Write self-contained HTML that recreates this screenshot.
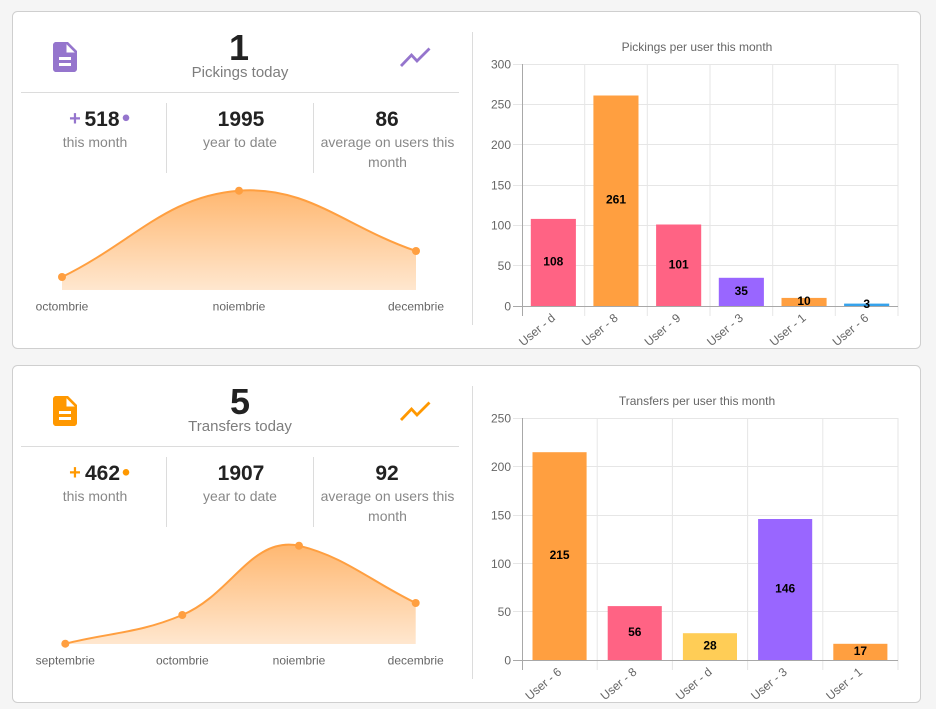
<!DOCTYPE html>
<html><head><meta charset="utf-8"><style>
html,body{margin:0;padding:0;background:#f5f5f5;width:936px;height:709px;overflow:hidden;}
svg{display:block;font-family:"Liberation Sans",Arial,sans-serif;}
</style></head><body>
<svg width="936" height="709" viewBox="0 0 936 709" xmlns="http://www.w3.org/2000/svg">
<defs>
<linearGradient id="g1" gradientUnits="userSpaceOnUse" x1="0" y1="190" x2="0" y2="290">
<stop offset="0" stop-color="#ff9f40" stop-opacity="0.75"/>
<stop offset="1" stop-color="#ff9f40" stop-opacity="0.25"/>
</linearGradient>
</defs>
<rect x="0" y="0" width="936" height="709" fill="#f5f5f5"/>

<!-- ============ CARD 1 ============ -->
<g>
<rect x="12.5" y="11.5" width="908" height="337" rx="5" fill="#fff" stroke="#cfcfcf"/>
<!-- icon -->
<path transform="translate(47,39) scale(1.5)" fill="#9575cd" d="M14 2H6c-1.1 0-1.99.9-1.99 2L4 20c0 1.1.89 2 1.99 2H18c1.1 0 2-.9 2-2V8l-6-6zm2 16H8v-2h8v2zm0-4H8v-2h8v2zm-3-5V3.5L18.5 9H13z"/>
<polyline points="401,66 411.5,55 417,61 429.5,48.5" fill="none" stroke="#9575cd" stroke-width="2.8"/>
<text x="239" y="60" font-size="36" font-weight="bold" fill="#222" text-anchor="middle">1</text>
<text x="240" y="77" font-size="15" fill="#7d7d7d" text-anchor="middle">Pickings today</text>
<line x1="21" y1="92.5" x2="459" y2="92.5" stroke="#dcdcdc"/>
<line x1="166.5" y1="103" x2="166.5" y2="173" stroke="#dcdcdc"/>
<line x1="313.5" y1="103" x2="313.5" y2="173" stroke="#dcdcdc"/>
<text x="75" y="125" font-size="20" font-weight="bold" fill="#9575cd" text-anchor="middle">+</text>
<text x="102" y="126" font-size="21" font-weight="bold" fill="#222" text-anchor="middle">518</text>
<circle cx="126" cy="117.8" r="3.3" fill="#9575cd"/>
<text x="241" y="126" font-size="21" font-weight="bold" fill="#222" text-anchor="middle">1995</text>
<text x="387" y="126" font-size="21" font-weight="bold" fill="#222" text-anchor="middle">86</text>
<text x="95" y="147" font-size="14" fill="#888" text-anchor="middle">this month</text>
<text x="240" y="147" font-size="14" fill="#888" text-anchor="middle">year to date</text>
<text x="387.5" y="147" font-size="14" fill="#888" text-anchor="middle">average on users this</text>
<text x="387.5" y="167" font-size="14" fill="#888" text-anchor="middle">month</text>
<!-- area chart -->
<path d="M62,277 C132.8,242.5 166.4,196 239,190.7 C308,185.6 345.2,226.9 416,251 L416,290 L62,290 Z" fill="url(#g1)"/>
<path d="M62,277 C132.8,242.5 166.4,196 239,190.7 C308,185.6 345.2,226.9 416,251" fill="none" stroke="#ff9f40" stroke-width="2"/>
<circle cx="62" cy="277" r="4" fill="#ff9f40"/>
<circle cx="239" cy="190.7" r="4" fill="#ff9f40"/>
<circle cx="416" cy="251" r="4" fill="#ff9f40"/>
<g font-size="12" fill="#666" text-anchor="middle">
<text x="62" y="310.5">octombrie</text>
<text x="239" y="310.5">noiembrie</text>
<text x="416" y="310.5">decembrie</text>
</g>
<line x1="472.5" y1="32" x2="472.5" y2="325" stroke="#dcdcdc"/>
<!-- bar chart 1 -->
<text x="697" y="51" font-size="12" fill="#666" text-anchor="middle">Pickings per user this month</text>
<g stroke="#e6e6e6" stroke-width="1">
<line x1="513" y1="64.5" x2="898" y2="64.5"/>
<line x1="513" y1="104.5" x2="898" y2="104.5"/>
<line x1="513" y1="144.5" x2="898" y2="144.5"/>
<line x1="513" y1="185.5" x2="898" y2="185.5"/>
<line x1="513" y1="225.5" x2="898" y2="225.5"/>
<line x1="513" y1="265.5" x2="898" y2="265.5"/>
<line x1="584.7" y1="64" x2="584.7" y2="316"/>
<line x1="647.3" y1="64" x2="647.3" y2="316"/>
<line x1="710" y1="64" x2="710" y2="316"/>
<line x1="772.7" y1="64" x2="772.7" y2="316"/>
<line x1="835.3" y1="64" x2="835.3" y2="316"/>
<line x1="898" y1="64" x2="898" y2="316"/>
</g>
<g font-size="12" fill="#666" text-anchor="end">
<text x="511" y="68.3">300</text>
<text x="511" y="108.6">250</text>
<text x="511" y="149">200</text>
<text x="511" y="189.3">150</text>
<text x="511" y="229.6">100</text>
<text x="511" y="270">50</text>
<text x="511" y="310.3">0</text>
</g>
<rect x="530.8" y="218.9" width="45.1" height="87.1" fill="#ff6384"/>
<rect x="593.4" y="95.5" width="45.1" height="210.5" fill="#ff9f40"/>
<rect x="656.1" y="224.5" width="45.1" height="81.5" fill="#ff6384"/>
<rect x="718.8" y="277.8" width="45.1" height="28.2" fill="#9966ff"/>
<rect x="781.5" y="297.9" width="45.1" height="8.1" fill="#ff9f40"/>
<rect x="844.1" y="303.6" width="45.1" height="2.4" fill="#36a2eb"/>
<line x1="522.5" y1="64" x2="522.5" y2="316" stroke="#a8a8a8"/>
<line x1="513" y1="306.5" x2="898" y2="306.5" stroke="#a8a8a8"/>
<g font-size="12" font-weight="bold" fill="#000" text-anchor="middle">
<text x="553.3" y="265.5">108</text>
<text x="616" y="203.7">261</text>
<text x="678.7" y="268.3">101</text>
<text x="741.3" y="294.9">35</text>
<text x="804" y="305">10</text>
<text x="866.7" y="307.8">3</text>
</g>
<g font-size="12" fill="#666" text-anchor="end">
<text transform="translate(553.3,316) rotate(-40)" dy="0.35em">User - d</text>
<text transform="translate(616,316) rotate(-40)" dy="0.35em">User - 8</text>
<text transform="translate(678.7,316) rotate(-40)" dy="0.35em">User - 9</text>
<text transform="translate(741.3,316) rotate(-40)" dy="0.35em">User - 3</text>
<text transform="translate(804,316) rotate(-40)" dy="0.35em">User - 1</text>
<text transform="translate(866.7,316) rotate(-40)" dy="0.35em">User - 6</text>
</g>
</g>

<!-- ============ CARD 2 ============ -->
<g transform="translate(0,354)">
<rect x="12.5" y="11.5" width="908" height="337" rx="5" fill="#fff" stroke="#cfcfcf"/>
<path transform="translate(47,39) scale(1.5)" fill="#ff9800" d="M14 2H6c-1.1 0-1.99.9-1.99 2L4 20c0 1.1.89 2 1.99 2H18c1.1 0 2-.9 2-2V8l-6-6zm2 16H8v-2h8v2zm0-4H8v-2h8v2zm-3-5V3.5L18.5 9H13z"/>
<polyline points="401,66 411.5,55 417,61 429.5,48.5" fill="none" stroke="#ff9800" stroke-width="2.8"/>
<text x="240" y="60" font-size="36" font-weight="bold" fill="#222" text-anchor="middle">5</text>
<text x="240" y="77" font-size="15" fill="#7d7d7d" text-anchor="middle">Transfers today</text>
<line x1="21" y1="92.5" x2="459" y2="92.5" stroke="#dcdcdc"/>
<line x1="166.5" y1="103" x2="166.5" y2="173" stroke="#dcdcdc"/>
<line x1="313.5" y1="103" x2="313.5" y2="173" stroke="#dcdcdc"/>
<text x="75" y="125" font-size="20" font-weight="bold" fill="#ff9800" text-anchor="middle">+</text>
<text x="102.5" y="126" font-size="21" font-weight="bold" fill="#222" text-anchor="middle">462</text>
<circle cx="126" cy="118.3" r="3.3" fill="#ff9800"/>
<text x="241" y="126" font-size="21" font-weight="bold" fill="#222" text-anchor="middle">1907</text>
<text x="387" y="126" font-size="21" font-weight="bold" fill="#222" text-anchor="middle">92</text>
<text x="95" y="147" font-size="14" fill="#888" text-anchor="middle">this month</text>
<text x="240" y="147" font-size="14" fill="#888" text-anchor="middle">year to date</text>
<text x="387.5" y="147" font-size="14" fill="#888" text-anchor="middle">average on users this</text>
<text x="387.5" y="167" font-size="14" fill="#888" text-anchor="middle">month</text>
<path d="M65.3,289.7 C112.1,278.2 138.4,279.4 182.3,261 C231.8,240.2 251.4,182 299,191.7 C344.7,202.9 369,226.1 415.7,249 L415.7,290 L65.3,290 Z" fill="url(#g1)"/>
<path d="M65.3,289.7 C112.1,278.2 138.4,279.4 182.3,261 C231.8,240.2 251.4,182 299,191.7 C344.7,202.9 369,226.1 415.7,249" fill="none" stroke="#ff9f40" stroke-width="2"/>
<circle cx="65.3" cy="289.7" r="4" fill="#ff9f40"/>
<circle cx="182.3" cy="261" r="4" fill="#ff9f40"/>
<circle cx="299" cy="191.7" r="4" fill="#ff9f40"/>
<circle cx="415.7" cy="249" r="4" fill="#ff9f40"/>
<g font-size="12" fill="#666" text-anchor="middle">
<text x="65.3" y="310.5">septembrie</text>
<text x="182.3" y="310.5">octombrie</text>
<text x="299" y="310.5">noiembrie</text>
<text x="415.7" y="310.5">decembrie</text>
</g>
<line x1="472.5" y1="32" x2="472.5" y2="325" stroke="#dcdcdc"/>
<text x="697" y="51" font-size="12" fill="#666" text-anchor="middle">Transfers per user this month</text>
<g stroke="#e6e6e6" stroke-width="1">
<line x1="513" y1="64.5" x2="898" y2="64.5"/>
<line x1="513" y1="112.5" x2="898" y2="112.5"/>
<line x1="513" y1="161.5" x2="898" y2="161.5"/>
<line x1="513" y1="209.5" x2="898" y2="209.5"/>
<line x1="513" y1="257.5" x2="898" y2="257.5"/>
<line x1="597.2" y1="64" x2="597.2" y2="316"/>
<line x1="672.4" y1="64" x2="672.4" y2="316"/>
<line x1="747.6" y1="64" x2="747.6" y2="316"/>
<line x1="822.8" y1="64" x2="822.8" y2="316"/>
<line x1="898" y1="64" x2="898" y2="316"/>
</g>
<g font-size="12" fill="#666" text-anchor="end">
<text x="511" y="68.6">250</text>
<text x="511" y="117">200</text>
<text x="511" y="165.4">150</text>
<text x="511" y="213.8">100</text>
<text x="511" y="262.2">50</text>
<text x="511" y="310.6">0</text>
</g>
<rect x="532.5" y="98.2" width="54.1" height="208.1" fill="#ff9f40"/>
<rect x="607.7" y="252.1" width="54.1" height="54.2" fill="#ff6384"/>
<rect x="682.9" y="279.2" width="54.1" height="27.1" fill="#ffcd56"/>
<rect x="758.1" y="165" width="54.1" height="141.3" fill="#9966ff"/>
<rect x="833.3" y="289.8" width="54.1" height="16.5" fill="#ff9f40"/>
<line x1="522.5" y1="64" x2="522.5" y2="316" stroke="#a8a8a8"/>
<line x1="513" y1="306.5" x2="898" y2="306.5" stroke="#a8a8a8"/>
<g font-size="12" font-weight="bold" fill="#000" text-anchor="middle">
<text x="559.6" y="205.2">215</text>
<text x="634.8" y="282.2">56</text>
<text x="710" y="295.7">28</text>
<text x="785.2" y="238.6">146</text>
<text x="860.4" y="301.1">17</text>
</g>
<g font-size="12" fill="#666" text-anchor="end">
<text transform="translate(559.6,316) rotate(-40)" dy="0.35em">User - 6</text>
<text transform="translate(634.8,316) rotate(-40)" dy="0.35em">User - 8</text>
<text transform="translate(710,316) rotate(-40)" dy="0.35em">User - d</text>
<text transform="translate(785.2,316) rotate(-40)" dy="0.35em">User - 3</text>
<text transform="translate(860.4,316) rotate(-40)" dy="0.35em">User - 1</text>
</g>
</g>
</svg>
</body></html>
